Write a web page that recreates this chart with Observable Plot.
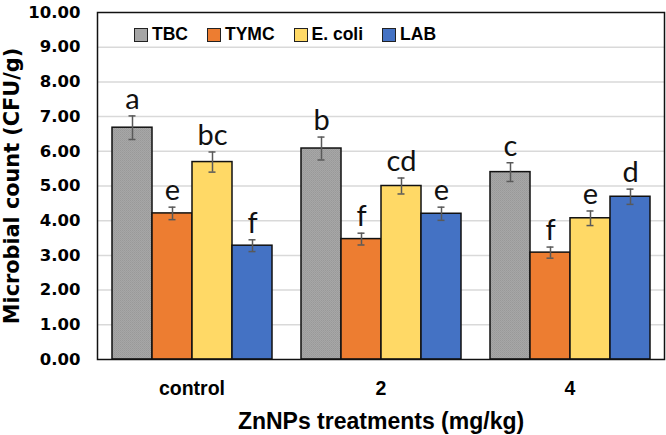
<!DOCTYPE html>
<html>
<head>
<meta charset="utf-8">
<script src="https://cdn.jsdelivr.net/npm/d3@7"></script>
<script src="https://cdn.jsdelivr.net/npm/@observablehq/plot@0.6"></script>
<style>
  html, body { margin: 0; padding: 0; background: #fff; }
  #wrap { position: relative; width: 666px; height: 435px; }
  #legend { position: absolute; left: 134px; top: 26px; display: flex; column-gap: 19px;
            font: bold 17.5px "Liberation Sans", Arial, sans-serif; color: #000; line-height: 17px; }
  #legend .item { display: flex; align-items: center; column-gap: 4px; }
  #legend .sw { width: 12px; height: 12px; border: 1.5px solid #222; box-sizing: content-box; }
  svg g[aria-label="y-axis tick label"] text { font-family: "DejaVu Sans", sans-serif; font-size: 16.5px; }
  svg g[aria-label="y-axis label"] text { font-family: "DejaVu Sans", sans-serif; font-size: 20.8px; }
  svg g[aria-label="fx-axis tick label"] text { font-size: 19.5px; }
  svg g[aria-label="fx-axis label"] text { font-size: 23px; }
</style>
</head>
<body>
<svg width="0" height="0" style="position:absolute">
  <defs>
    <pattern id="stipple" width="2" height="2" patternUnits="userSpaceOnUse">
      <rect width="2" height="2" fill="#a7a7a7"></rect>
      <rect width="1" height="1" fill="#999999"></rect>
      <rect x="1" y="1" width="1" height="1" fill="#9e9e9e"></rect>
    </pattern>
  </defs>
</svg>
<div id="wrap"><div id="legend"></div></div>
<script>
const groups = ["control", "2", "4"];
const series = ["TBC", "TYMC", "E. coli", "LAB"];
const colors = ["#a5a5a5", "#ed7d31", "#ffd966", "#4472c4"];
const barFills = ["url(#stipple)", "#ed7d31", "#ffd966", "#4472c4"];
const yTicks = [0, 1, 2, 3, 4, 5, 6, 7, 8, 9, 10];

// means per series across groups (control, 2, 4)
const TBC = [6.68, 6.08, 5.40];
const TYMC = [4.21, 3.47, 3.08];
const ECOLI = [5.69, 5.00, 4.07];
const LAB = [3.28, 4.20, 4.69];
// standard errors
const TBC_err = [0.34, 0.33, 0.27];
const TYMC_err = [0.18, 0.17, 0.16];
const ECOLI_err = [0.29, 0.23, 0.21];
const LAB_err = [0.17, 0.19, 0.22];
// significance letters
const TBC_let = ["a", "b", "c"];
const TYMC_let = ["e", "f", "f"];
const ECOLI_let = ["bc", "cd", "e"];
const LAB_let = ["f", "e", "d"];

const vals = [TBC, TYMC, ECOLI, LAB];
const errs = [TBC_err, TYMC_err, ECOLI_err, LAB_err];
const lets = [TBC_let, TYMC_let, ECOLI_let, LAB_let];

const data = [];
groups.forEach((g, gi) => {
  series.forEach((s, si) => {
    data.push({group: g, series: s, value: vals[si][gi], err: errs[si][gi], letter: lets[si][gi]});
  });
});

const plot = Plot.plot({
  width: 666,
  height: 435,
  marginLeft: 97,
  marginRight: 2,
  marginTop: 12,
  marginBottom: 76,
  style: {fontFamily: "'Liberation Sans', Arial, sans-serif", fontWeight: "bold", color: "#000", background: "#fff"},
  fx: {domain: groups, padding: 0, label: "ZnNPs treatments (mg/kg)", labelAnchor: "center", labelOffset: 69, tickSize: 0, tickPadding: 22},
  x: {domain: series, paddingInner: 0, paddingOuter: 0.3625, axis: null},
  y: {domain: [0, 10], ticks: yTicks, tickFormat: d3.format(".2f"), tickSize: 0, tickPadding: 17,
      label: "Microbial count (CFU/g)", labelAnchor: "center", labelOffset: 93, labelArrow: "none"},
  color: {domain: series, range: barFills},
  marks: [
    Plot.gridY(yTicks.filter(d => d > 0 && d < 10), {stroke: "#d9d9d9", strokeOpacity: 1, strokeWidth: 1.5}),
    Plot.barY(data, {fx: "group", x: "series", y: "value", fill: "series", stroke: "#111", strokeWidth: 1.5}),
    Plot.ruleX(data, {fx: "group", x: "series", y1: d => d.value - d.err, y2: d => d.value + d.err, stroke: "#595959", strokeWidth: 1.5}),
    Plot.tickY(data, {fx: "group", x: "series", y: d => d.value - d.err, stroke: "#595959", strokeWidth: 1.5, insetLeft: 16.5, insetRight: 16.5}),
    Plot.tickY(data, {fx: "group", x: "series", y: d => d.value + d.err, stroke: "#595959", strokeWidth: 1.5, insetLeft: 16.5, insetRight: 16.5}),
    Plot.text(data, {fx: "group", x: "series", y: d => d.value + d.err, text: "letter", lineAnchor: "bottom", dy: -7,
      fontSize: 29, fontFamily: "Lato, 'Open Sans', sans-serif", fontWeight: "normal", fill: "#111"}),
    Plot.frame({facet: "super", stroke: "#111", strokeWidth: 1.5})
  ]
});

const wrap = document.getElementById("wrap");
wrap.insertBefore(plot, wrap.firstChild);

const legend = document.getElementById("legend");
series.forEach((s, i) => {
  const item = document.createElement("div");
  item.className = "item";
  const sw = document.createElement("div");
  sw.className = "sw";
  sw.style.background = colors[i];
  const t = document.createElement("span");
  t.textContent = s;
  item.appendChild(sw);
  item.appendChild(t);
  legend.appendChild(item);
});
</script>
</body>
</html>
